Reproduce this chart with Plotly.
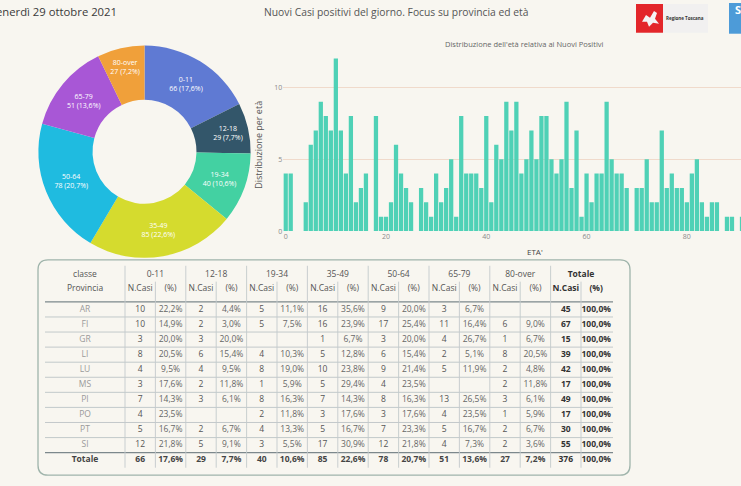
import plotly.graph_objects as go

W, H = 741, 486
BG = "#F8F6F0"

# --- donut: new cases per age class ---
AGE_GROUPS = ["0-11", "12-18", "19-34", "35-49", "50-64", "65-79", "80-over"]
GROUP_CASES = [66, 29, 40, 85, 78, 51, 27]
GROUP_COLORS = ["#5F7AD3", "#33566A", "#43D1A2", "#D5DB2E", "#1FBBE0", "#A857D6", "#F0A03A"]

# --- bars: new cases per single year of age (visible part, 0..91) ---
AGES = list(range(92))
AGE_CASES = [
    4, 4, 0, 0, 2, 6, 7, 9, 8, 7, 12, 7, 4, 8, 2, 3, 4, 0, 8, 1,
    1, 2, 6, 4, 3, 2, 0, 3, 2, 1, 4, 2, 3, 5, 1, 8, 4, 4, 4, 3,
    8, 2, 6, 5, 9, 7, 9, 4, 5, 7, 5, 8, 8, 5, 4, 5, 9, 3, 7, 1,
    4, 2, 4, 4, 9, 5, 4, 4, 3, 0, 3, 3, 5, 2, 2, 7, 3, 4, 3, 3,
    2, 4, 5, 2, 1, 2, 2, 0, 1, 1, 0, 1,
]
BAR_TICKS = [0, 20, 40, 60, 80]
BAR_YTICKS = [0, 5, 10]

# --- table: cases by province and age class (None = empty cell) ---
PROVINCES = ["AR", "FI", "GR", "LI", "LU", "MS", "PI", "PO", "PT", "SI"]
CASES_AR = [10, 2, 5, 16, 9, 3, None]
CASES_FI = [10, 2, 5, 16, 17, 11, 6]
CASES_GR = [3, 3, None, 1, 3, 4, 1]
CASES_LI = [8, 6, 4, 5, 6, 2, 8]
CASES_LU = [4, 4, 8, 10, 9, 5, 2]
CASES_MS = [3, 2, 1, 5, 4, None, 2]
CASES_PI = [7, 3, 8, 7, 8, 13, 3]
CASES_PO = [4, None, 2, 3, 3, 4, 1]
CASES_PT = [5, 2, 4, 5, 7, 5, 2]
CASES_SI = [12, 5, 3, 17, 12, 4, 2]
PROVINCE_ROWS = [CASES_AR, CASES_FI, CASES_GR, CASES_LI, CASES_LU,
                 CASES_MS, CASES_PI, CASES_PO, CASES_PT, CASES_SI]

FONT = "Open Sans, sans-serif"


def pct(v, tot):
    return f"{v / tot * 100:.1f}".replace(".", ",") + "%"


fig = go.Figure()

# donut
fig.add_trace(go.Pie(
    labels=AGE_GROUPS,
    values=GROUP_CASES,
    marker=dict(colors=GROUP_COLORS, line=dict(width=0)),
    hole=0.49,
    sort=False,
    direction="clockwise",
    rotation=0,
    textposition="inside",
    insidetextorientation="horizontal",
    texttemplate="%{label}<br>%{value} (%{percent:.1%})",
    textfont=dict(size=7, color="white"),
    domain=dict(x=[37 / W, 252 / W], y=[1 - 260 / H, 1 - 46 / H]),
))

# bars
fig.add_trace(go.Bar(
    x=AGES, y=AGE_CASES,
    marker=dict(color="#4FD1B6", line=dict(width=0)),
    xaxis="x", yaxis="y",
))

# table, drawn on a pixel-sized helper axis
TL, TR = 45, 613          # grid left / right
CLASSE_R = 125            # right edge of first column
COL_W = 30.4
ROW1_Y, ROW2_Y = 277, 291
BODY_TOP, ROW_H = 304.4, 15.2

ncols = len(AGE_GROUPS) + 1   # + Totale
col_center = [CLASSE_R + COL_W * (k + 0.5) for k in range(ncols * 2)]

cx, cy, txt, tcol = [], [], [], []


def cell(x, y, t, c):
    cx.append(x)
    cy.append(y)
    txt.append(t)
    tcol.append(c)


HDR = "#555555"
cell((TL + CLASSE_R) / 2, ROW1_Y, "classe", HDR)
cell((TL + CLASSE_R) / 2, ROW2_Y, "Provincia", HDR)
for g, name in enumerate(AGE_GROUPS + ["Totale"]):
    bold = name == "Totale"
    mid = CLASSE_R + COL_W * (2 * g + 1)
    cell(mid, ROW1_Y, f"<b>{name}</b>" if bold else name, "#333333" if bold else HDR)
    cell(col_center[2 * g], ROW2_Y, "<b>N.Casi</b>" if bold else "N.Casi", "#333333" if bold else HDR)
    cell(col_center[2 * g + 1], ROW2_Y, "<b>(%)</b>" if bold else "(%)", "#333333" if bold else HDR)

totals = [sum(r[k] or 0 for r in PROVINCE_ROWS) for k in range(len(AGE_GROUPS))]
grand = sum(totals)

for i, (prov, row) in enumerate(zip(PROVINCES, PROVINCE_ROWS)):
    y = BODY_TOP + ROW_H * (i + 0.5)
    tot = sum(v or 0 for v in row)
    cell((TL + CLASSE_R) / 2, y, prov, "#9A9A9A")
    for k, v in enumerate(row):
        if v is None:
            continue
        cell(col_center[2 * k], y, str(v), "#555555")
        cell(col_center[2 * k + 1], y, pct(v, tot), "#666666")
    cell(col_center[-2], y, f"<b>{tot}</b>", "#333333")
    cell(col_center[-1], y, f"<b>{pct(tot, tot)}</b>", "#333333")

y_tot = BODY_TOP + ROW_H * (len(PROVINCES) + 0.5)
cell((TL + CLASSE_R) / 2, y_tot, "<b>Totale</b>", "#444444")
for k, v in enumerate(totals):
    cell(col_center[2 * k], y_tot, f"<b>{v}</b>", "#444444")
    cell(col_center[2 * k + 1], y_tot, f"<b>{pct(v, grand)}</b>", "#444444")
cell(col_center[-2], y_tot, f"<b>{grand}</b>", "#333333")
cell(col_center[-1], y_tot, f"<b>{pct(grand, grand)}</b>", "#333333")

fig.add_trace(go.Scatter(
    x=cx, y=cy, text=txt, mode="text",
    textposition="middle center",
    textfont=dict(size=8.5, color=tcol, family=FONT),
    xaxis="x3", yaxis="y3", hoverinfo="skip",
))

# page header texts (the date is cut at the left edge, as in the source)
fig.add_trace(go.Scatter(
    x=[117], y=[13], text=["venerdì 29 ottobre 2021"], mode="text",
    textposition="middle left",
    textfont=dict(size=11.3, color="#3A3A3A", family=FONT),
    xaxis="x3", yaxis="y3", hoverinfo="skip",
))
fig.add_trace(go.Scatter(
    x=[741], y=[11], text=["<b>S</b>"], mode="text",
    textposition="middle left",
    textfont=dict(size=11, color="white", family=FONT),
    xaxis="x3", yaxis="y3", hoverinfo="skip",
))

shapes = []
body_bottom = BODY_TOP + ROW_H * (len(PROVINCES) + 1)
# rounded outer box
bx0, bx1, by0, by1, r = 38, 630, 262, 479, 10
shapes.append(dict(
    type="path", xref="x3", yref="y3",
    path=(f"M {bx0 + r},{by0} L {bx1 - r},{by0} Q {bx1},{by0} {bx1},{by0 + r} "
          f"L {bx1},{by1 - r} Q {bx1},{by1} {bx1 - r},{by1} L {bx0 + r},{by1} "
          f"Q {bx0},{by1} {bx0},{by1 - r} L {bx0},{by0 + r} Q {bx0},{by0} {bx0 + r},{by0} Z"),
    line=dict(color="#9FB4AB", width=1.3),
))
# header separator
shapes.append(dict(type="line", xref="x3", yref="y3", x0=TL, x1=TR, y0=BODY_TOP, y1=BODY_TOP,
                   line=dict(color="#7C888C", width=1.4)))
# body row separators
for i in range(1, len(PROVINCES) + 1):
    y = BODY_TOP + ROW_H * i
    last = i == len(PROVINCES)
    shapes.append(dict(type="line", xref="x3", yref="y3", x0=TL, x1=TR, y0=y, y1=y,
                       line=dict(color="#7C888C" if last else "#BCC4C6", width=1.2 if last else 0.9)))
# vertical lines
for g in range(ncols):
    xg = CLASSE_R + COL_W * 2 * g
    shapes.append(dict(type="line", xref="x3", yref="y3", x0=xg, x1=xg, y0=268, y1=body_bottom,
                       line=dict(color="#C3CACC", width=0.9)))
    xi = xg + COL_W
    shapes.append(dict(type="line", xref="x3", yref="y3", x0=xi, x1=xi, y0=284, y1=body_bottom,
                       line=dict(color="#C3CACC", width=0.9)))

# logos (top right)
shapes.append(dict(type="rect", xref="x3", yref="y3", x0=663, x1=708, y0=4, y1=33,
                   fillcolor="#F1F0F0", line=dict(width=0), layer="below"))
shapes.append(dict(type="rect", xref="x3", yref="y3", x0=636, x1=663, y0=4, y1=33,
                   fillcolor="#E3262A", line=dict(width=0), layer="below"))
shapes.append(dict(type="path", xref="x3", yref="y3",
                   path="M 642,22 L 646,15 L 650,18 L 654,11 L 657,13 L 655,19 L 659,24 L 653,23 L 649,27 L 647,22 Z",
                   fillcolor="#F4F4F4", line=dict(width=0)))
shapes.append(dict(type="rect", xref="x3", yref="y3", x0=729, x1=741, y0=3, y1=34,
                   fillcolor="#4D9BD8", line=dict(width=0), layer="below"))

annotations = [
    dict(x=396 / W, y=1 - 12 / H, xref="paper", yref="paper", xanchor="center", yanchor="middle",
         text="Nuovi Casi positivi del giorno. Focus su provincia ed età", showarrow=False,
         font=dict(size=10.3, color="#555555", family=FONT)),
    dict(x=524 / W, y=1 - 44 / H, xref="paper", yref="paper", xanchor="center", yanchor="middle",
         text="Distribuzione dell'età relativa ai Nuovi Positivi", showarrow=False,
         font=dict(size=7.5, color="#666666", family=FONT)),
    dict(x=259 / W, y=1 - 146 / H, xref="paper", yref="paper", xanchor="center", yanchor="middle",
         text="Distribuzione per età", textangle=-90, showarrow=False,
         font=dict(size=9, color="#555555", family=FONT)),
    dict(x=535 / W, y=1 - 254 / H, xref="paper", yref="paper", xanchor="center", yanchor="middle",
         text="ETA'", showarrow=False,
         font=dict(size=8, color="#444444", family=FONT)),
    dict(x=685 / W, y=1 - 18 / H, xref="paper", yref="paper", xanchor="center", yanchor="middle",
         text="<b>Regione Toscana</b>", showarrow=False,
         font=dict(size=4.5, color="#333333", family=FONT)),
]

fig.update_layout(
    width=W, height=H,
    margin=dict(l=0, r=0, t=0, b=0),
    paper_bgcolor=BG, plot_bgcolor="rgba(0,0,0,0)",
    separators=",.",
    showlegend=False,
    bargap=0.15,
    font=dict(family=FONT),
    xaxis=dict(domain=[283.2 / W, 1], range=[-0.5, 90.8], tickvals=BAR_TICKS,
               showgrid=False, zeroline=False, showline=False, ticks="",
               tickfont=dict(size=7, color="#8A8A8A"), anchor="y"),
    yaxis=dict(domain=[1 - 233 / H, 1 - 50.3 / H], range=[0, 12.6], tickvals=BAR_YTICKS,
               showgrid=True, gridcolor="#F0DACB", gridwidth=1, zeroline=False, showline=False,
               ticks="", tickfont=dict(size=7, color="#8A8A8A"), anchor="x"),
    xaxis3=dict(domain=[0, 1], range=[0, W], visible=False, anchor="y3", fixedrange=True),
    yaxis3=dict(domain=[0, 1], range=[H, 0], visible=False, anchor="x3", fixedrange=True),
    shapes=shapes,
    annotations=annotations,
)

# page body has a default 8px margin; drop it so the figure fills the window
fig.write_html("out.html", config={"displayModeBar": False},
               post_script="document.body.style.margin='0';")
